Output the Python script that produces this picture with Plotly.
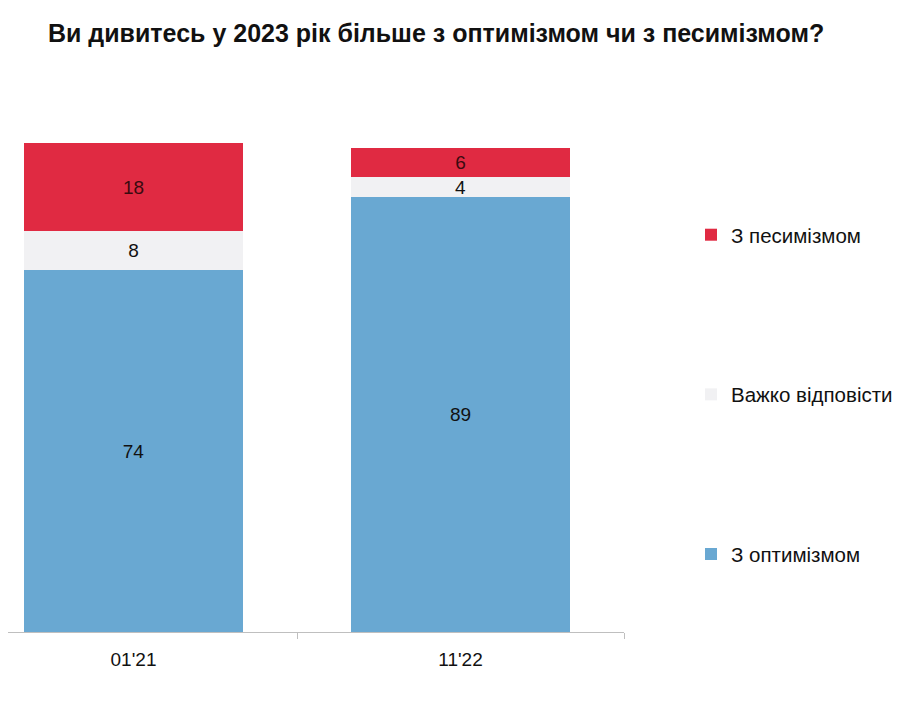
import plotly.graph_objects as go

categories = ["01'21", "11'22"]
optimism = [74, 89]
hard = [8, 4]
pessimism = [18, 6]

x = [0, 1]
fig = go.Figure()
series = [
    ("З оптимізмом", optimism, "#69A8D2", "#111111", 3),
    ("Важко відповісти", hard, "#F1F1F3", "#111111", 2),
    ("З песимізмом", pessimism, "#E02A42", "#3a0a10", 1),
]
for name, vals, col, tcol, rank in series:
    fig.add_trace(go.Bar(
        x=x, y=vals, name=name, marker=dict(color=col, line=dict(width=0)),
        width=0.67, text=[str(v) for v in vals], textposition="inside",
        insidetextanchor="middle", constraintext="none", textangle=0,
        textfont=dict(family="Liberation Sans, Arial, sans-serif", size=19, color=tcol),
        legendgroup=name, legendrank=rank, hoverinfo="skip",
    ))

fig.update_layout(
    barmode="stack",
    width=907, height=717,
    margin=dict(l=0, r=291, t=135, b=93, autoexpand=False),
    paper_bgcolor="white", plot_bgcolor="white",
    title=dict(text="<b>Ви дивитесь у 2023 рік більше з оптимізмом чи з песимізмом?</b>",
               x=40/907, xanchor="left", y=1-25/717, yanchor="middle",
               font=dict(family="Liberation Sans, Arial, sans-serif", size=25, color="#111111")),
    showlegend=True,
    legend=dict(x=683/616, xanchor="left", y=0.853, yanchor="top",
                traceorder="grouped", tracegroupgap=130,
                font=dict(family="Liberation Sans, Arial, sans-serif", size=20.5, color="#111111"),
                itemwidth=30, bgcolor="rgba(0,0,0,0)"),
    xaxis=dict(range=[-0.5 + 38/327, 1.5], tickmode="array", tickvals=x, ticktext=categories,
               ticks="", showline=True, linecolor="#BFBFBF", linewidth=1,
               showgrid=False, zeroline=False, ticklabelstandoff=10,
               minor=dict(tickmode="array", tickvals=[0.5, 1.5], ticks="outside", ticklen=6,
                          tickcolor="#BFBFBF", showgrid=False),
               tickfont=dict(family="Liberation Sans, Arial, sans-serif", size=19, color="#111111"),
               fixedrange=True),
    yaxis=dict(range=[0, 100], visible=False, fixedrange=True),
)

fig.write_html("out.html")
